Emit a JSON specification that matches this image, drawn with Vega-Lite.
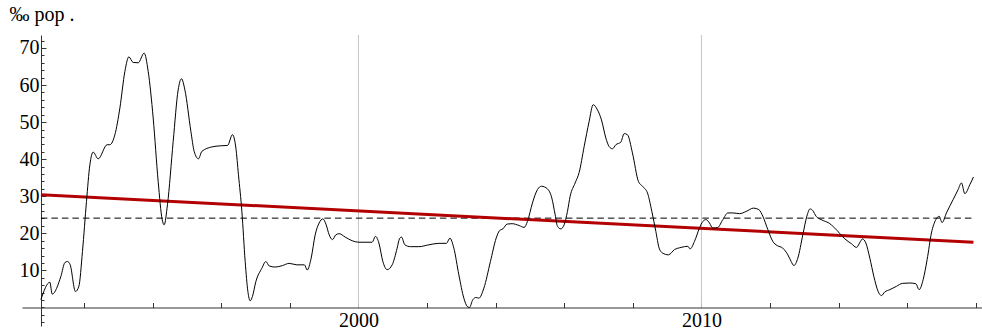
{
  "$schema": "https://vega.github.io/schema/vega-lite/v6.json",
  "width": 960,
  "height": 291,
  "autosize": {"type": "none"},
  "padding": {"left": 22, "top": 35, "right": 0, "bottom": 7},
  "background": "white",
  "config": {
    "view": {"stroke": null},
    "font": "Liberation Serif, Times New Roman, serif",
    "axis": {
      "grid": false,
      "domainColor": "#333333",
      "domainWidth": 1,
      "tickColor": "#333333",
      "tickWidth": 1,
      "labelFont": "Liberation Serif, Times New Roman, serif",
      "labelFontSize": 20,
      "labelColor": "#000000",
      "labelOverlap": false,
      "labelFlush": false
    }
  },
  "datasets": {
    "series": [
      {"t":1990.741,"v":2.1},{"t":1991.003,"v":6.8},{"t":1991.070,"v":3.6},{"t":1991.324,"v":8.4},{"t":1991.440,"v":12.1},{"t":1991.516,"v":12.4},{"t":1991.595,"v":11.5},{"t":1991.749,"v":4.3},{"t":1991.848,"v":5.7},{"t":1991.953,"v":15.1},
      {"t":1992.070,"v":28.6},{"t":1992.169,"v":38.5},{"t":1992.265,"v":41.9},{"t":1992.411,"v":40.1},{"t":1992.673,"v":43.9},{"t":1992.752,"v":43.9},{"t":1992.898,"v":46.6},{"t":1993.044,"v":53.8},{"t":1993.190,"v":63.7},{"t":1993.306,"v":67.6},
      {"t":1993.431,"v":66.1},{"t":1993.577,"v":66.0},{"t":1993.752,"v":68.6},{"t":1993.869,"v":63.7},{"t":1994.015,"v":51.1},{"t":1994.160,"v":34.0},{"t":1994.277,"v":23.7},{"t":1994.335,"v":22.3},{"t":1994.431,"v":27.7},{"t":1994.598,"v":44.8},
      {"t":1994.743,"v":58.7},{"t":1994.840,"v":61.7},{"t":1994.939,"v":58.7},{"t":1995.114,"v":47.5},{"t":1995.210,"v":42.1},{"t":1995.335,"v":40.1},{"t":1995.434,"v":42.1},{"t":1995.726,"v":43.3},{"t":1995.968,"v":43.6},{"t":1996.181,"v":43.7},
      {"t":1996.327,"v":46.6},{"t":1996.426,"v":43.0},{"t":1996.501,"v":35.8},{"t":1996.601,"v":25.9},{"t":1996.697,"v":12.4},{"t":1996.776,"v":4.3},{"t":1996.843,"v":1.8},{"t":1996.910,"v":3.0},{"t":1997.009,"v":7.0},{"t":1997.184,"v":10.6},
      {"t":1997.300,"v":12.4},{"t":1997.397,"v":11.2},{"t":1997.571,"v":10.9},{"t":1997.784,"v":11.3},{"t":1997.980,"v":11.9},{"t":1998.204,"v":11.5},{"t":1998.426,"v":11.5},{"t":1998.504,"v":10.1},{"t":1998.621,"v":13.3},{"t":1998.738,"v":19.6},
      {"t":1998.854,"v":22.8},{"t":1998.962,"v":23.9},{"t":1999.058,"v":22.3},{"t":1999.146,"v":19.6},{"t":1999.242,"v":18.3},{"t":1999.341,"v":19.6},{"t":1999.437,"v":19.9},{"t":1999.612,"v":19.0},{"t":1999.816,"v":18.0},{"t":2000.012,"v":17.6},
      {"t":2000.399,"v":17.6},{"t":2000.496,"v":19.2},{"t":2000.595,"v":17.4},{"t":2000.711,"v":12.4},{"t":2000.837,"v":10.2},{"t":2000.983,"v":11.5},{"t":2001.128,"v":16.0},{"t":2001.195,"v":18.5},{"t":2001.254,"v":19.0},{"t":2001.353,"v":16.9},
      {"t":2001.516,"v":16.4},{"t":2001.761,"v":16.4},{"t":2002.052,"v":16.9},{"t":2002.344,"v":17.3},{"t":2002.566,"v":17.3},{"t":2002.665,"v":18.7},{"t":2002.781,"v":16.0},{"t":2002.927,"v":8.8},{"t":2003.073,"v":2.5},{"t":2003.169,"v":0.3},
      {"t":2003.236,"v":0.0},{"t":2003.335,"v":2.1},{"t":2003.431,"v":2.7},{"t":2003.510,"v":2.5},{"t":2003.656,"v":5.2},{"t":2003.848,"v":12.4},{"t":2004.015,"v":18.7},{"t":2004.111,"v":20.7},{"t":2004.210,"v":21.2},{"t":2004.335,"v":22.5},
      {"t":2004.481,"v":22.6},{"t":2004.685,"v":22.1},{"t":2004.831,"v":21.6},{"t":2004.927,"v":23.2},{"t":2005.073,"v":28.2},{"t":2005.219,"v":31.8},{"t":2005.335,"v":32.7},{"t":2005.510,"v":32.0},{"t":2005.638,"v":29.5},{"t":2005.735,"v":25.0},
      {"t":2005.802,"v":21.9},{"t":2005.901,"v":21.2},{"t":2005.997,"v":22.3},{"t":2006.093,"v":25.9},{"t":2006.172,"v":30.0},{"t":2006.318,"v":33.6},{"t":2006.434,"v":36.4},{"t":2006.580,"v":43.4},{"t":2006.726,"v":50.2},{"t":2006.843,"v":54.7},
      {"t":2006.968,"v":53.3},{"t":2007.085,"v":50.6},{"t":2007.213,"v":45.7},{"t":2007.309,"v":43.4},{"t":2007.405,"v":42.8},{"t":2007.504,"v":43.9},{"t":2007.650,"v":44.6},{"t":2007.746,"v":46.9},{"t":2007.843,"v":46.6},{"t":2007.988,"v":41.7},
      {"t":2008.163,"v":34.0},{"t":2008.280,"v":32.7},{"t":2008.426,"v":30.9},{"t":2008.554,"v":25.9},{"t":2008.671,"v":20.5},{"t":2008.767,"v":16.0},{"t":2008.863,"v":14.7},{"t":2009.038,"v":14.2},{"t":2009.213,"v":15.6},{"t":2009.408,"v":16.2},
      {"t":2009.603,"v":16.5},{"t":2009.671,"v":15.8},{"t":2009.796,"v":17.8},{"t":2009.942,"v":21.4},{"t":2010.041,"v":23.2},{"t":2010.137,"v":23.7},{"t":2010.233,"v":22.8},{"t":2010.332,"v":21.4},{"t":2010.478,"v":21.6},{"t":2010.624,"v":23.7},
      {"t":2010.770,"v":25.5},{"t":2010.915,"v":25.5},{"t":2011.108,"v":25.3},{"t":2011.303,"v":25.9},{"t":2011.516,"v":26.8},{"t":2011.673,"v":26.4},{"t":2011.790,"v":24.6},{"t":2011.936,"v":21.0},{"t":2012.082,"v":17.8},{"t":2012.207,"v":16.7},
      {"t":2012.373,"v":16.0},{"t":2012.519,"v":14.2},{"t":2012.615,"v":12.4},{"t":2012.694,"v":11.3},{"t":2012.810,"v":13.3},{"t":2012.956,"v":19.6},{"t":2013.073,"v":24.6},{"t":2013.169,"v":26.6},{"t":2013.248,"v":26.1},{"t":2013.344,"v":24.6},
      {"t":2013.490,"v":23.7},{"t":2013.615,"v":23.2},{"t":2013.694,"v":22.9},{"t":2013.889,"v":21.4},{"t":2014.181,"v":18.5},{"t":2014.373,"v":17.2},{"t":2014.519,"v":16.2},{"t":2014.636,"v":17.8},{"t":2014.694,"v":18.5},{"t":2014.793,"v":17.4},
      {"t":2014.910,"v":13.3},{"t":2015.026,"v":8.4},{"t":2015.152,"v":4.3},{"t":2015.248,"v":3.2},{"t":2015.347,"v":4.2},{"t":2015.493,"v":4.8},{"t":2015.685,"v":5.7},{"t":2015.860,"v":6.5},{"t":2016.076,"v":6.6},{"t":2016.251,"v":6.4},
      {"t":2016.347,"v":4.8},{"t":2016.464,"v":7.5},{"t":2016.580,"v":12.9},{"t":2016.706,"v":20.1},{"t":2016.834,"v":23.7},{"t":2016.930,"v":24.6},{"t":2017.017,"v":22.9},{"t":2017.143,"v":25.5},{"t":2017.338,"v":29.1},{"t":2017.484,"v":31.8},
      {"t":2017.580,"v":33.6},{"t":2017.679,"v":30.7},{"t":2017.825,"v":33.1},{"t":2017.930,"v":35.2}
    ],
    "trend": [
      {"t": 1990.741, "v": 30.4},
      {"t": 2017.930, "v": 17.6}
    ],
    "mean": [
      {"t0": 1990.741, "t1": 2017.930, "m": 24.1}
    ],
    "grid": [
      {"t": 2000},
      {"t": 2010}
    ]
  },
  "resolve": {"axis": {"x": "independent", "y": "independent"}},
  "layer": [
    {
      "data": {"name": "grid"},
      "mark": {"type": "rule", "color": "#c4c4c4", "strokeWidth": 1},
      "encoding": {
        "x": {
          "field": "t", "type": "quantitative",
          "scale": {"domain": [1990.19, 2018.18], "nice": false, "zero": false},
          "axis": {
            "orient": "bottom", "offset": -18.5, "title": null,
            "values": [1992, 1994, 1996, 1998, 2000, 2002, 2004, 2006, 2008, 2010, 2012, 2014, 2016, 2018],
            "tickSize": -5, "labels": false, "domain": true
          }
        },
        "y": {
          "datum": 0, "type": "quantitative",
          "scale": {"domain": [-5, 73.5], "nice": false, "zero": false},
          "axis": {
            "orient": "left", "offset": -19, "title": null,
            "values": [-4, -2, 0, 2, 4, 6, 8, 10, 12, 14, 16, 18, 20, 22, 24, 26, 28, 30, 32, 34, 36, 38, 40, 42, 44, 46, 48, 50, 52, 54, 56, 58, 60, 62, 64, 66, 68, 70, 72],
            "tickSize": -3, "labels": false, "domain": true
          }
        },
        "y2": {"datum": 73.5}
      }
    },
    {
      "data": {"name": "mean"},
      "mark": {"type": "rule", "color": "#000000", "strokeWidth": 1, "strokeDash": [6.5, 4]},
      "encoding": {
        "x": {
          "field": "t0", "type": "quantitative",
          "axis": {
            "orient": "bottom", "offset": -18.5, "title": null,
            "values": [2000, 2010], "format": "d",
            "ticks": false, "domain": false, "labelPadding": 3
          }
        },
        "x2": {"field": "t1"},
        "y": {
          "field": "m", "type": "quantitative",
          "axis": {
            "orient": "left", "offset": -19, "title": null,
            "values": [10, 20, 30, 40, 50, 60, 70],
            "tickSize": -5, "labels": false, "domain": false
          }
        }
      }
    },
    {
      "data": {"name": "trend"},
      "mark": {"type": "line", "color": "#b30000", "strokeWidth": 3},
      "encoding": {
        "x": {"field": "t", "type": "quantitative", "axis": null},
        "y": {
          "field": "v", "type": "quantitative",
          "axis": {
            "orient": "left", "offset": -19,
            "values": [10, 20, 30, 40, 50, 60, 70],
            "ticks": false, "domain": false, "labelPadding": 2,
            "title": "‰ pop .", "titleAngle": 0, "titleAlign": "left",
            "titleBaseline": "alphabetic", "titleX": -32, "titleY": -14.6,
            "titleFont": "Liberation Serif, Times New Roman, serif", "titleFontSize": 20,
            "titleFontWeight": "normal", "titleColor": "#000000"
          }
        }
      }
    },
    {
      "data": {"name": "series"},
      "mark": {"type": "line", "color": "#000000", "strokeWidth": 1, "interpolate": "monotone"},
      "encoding": {
        "x": {"field": "t", "type": "quantitative", "axis": null},
        "y": {"field": "v", "type": "quantitative", "axis": null}
      }
    }
  ]
}
